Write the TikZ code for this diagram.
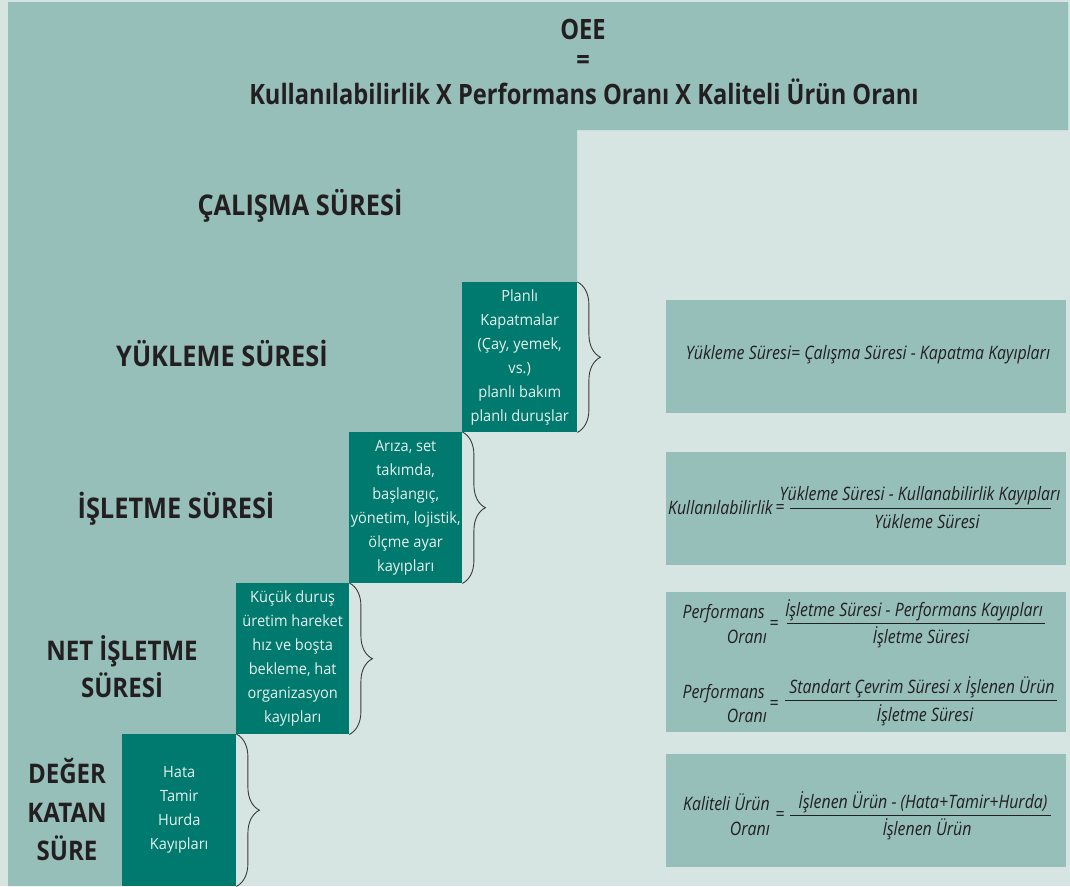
\documentclass[tikz,border=0pt]{standalone}
\usepackage{fontspec}
\setmainfont{Open Sans}
\newfontfamily\headfont[FakeStretch=0.89]{Open Sans}
\newfontfamily\titlefont[FakeStretch=0.845]{Open Sans}
\newfontfamily\lossfont[FakeStretch=0.94]{Open Sans}
\newfontfamily\formfont[FakeStretch=0.86]{Open Sans}
\usetikzlibrary{decorations.pathreplacing}

\definecolor{bgpale}{HTML}{D6E4E2}
\definecolor{tealmid}{HTML}{96BFB9}
\definecolor{tealdark}{HTML}{007A6E}
\definecolor{inkdark}{HTML}{231F20}
\definecolor{boxtext}{HTML}{E8F1EF}
\definecolor{braceink}{HTML}{3A3A3A}

\tikzset{
  lossbox/.style={fill=tealdark, draw=none, anchor=north west, inner sep=0pt,
    text=boxtext, align=center, font=\lossfont\fontsize{15.5}{24}\selectfont},
  formbox/.style={fill=tealmid, draw=none, anchor=north west, inner sep=0pt,
    minimum width=400pt},
  steplabel/.style={text=inkdark, inner sep=0pt, anchor=base,
    font=\headfont\bfseries\fontsize{28.5}{38}\selectfont},
  smallstep/.style={steplabel, font=\headfont\bfseries\fontsize{27}{38}\selectfont},
  titletext/.style={text=inkdark, inner sep=0pt, anchor=base,
    font=\titlefont\bfseries\fontsize{28}{32}\selectfont},
  formtext/.style={text=inkdark, inner sep=0pt, anchor=base,
    font=\formfont\itshape\fontsize{18.5}{25}\selectfont},
  formlabel/.style={formtext, anchor=base east},
  formeq/.style={formtext, anchor=center},
  fracbar/.style={draw=inkdark, line width=0.9pt},
  lossbrace/.style={draw=braceink, line width=0.9pt,
    decorate, decoration={brace, amplitude=23pt}},
}

\begin{document}
\begin{tikzpicture}[x=1pt, y=-1pt]
  \fill[bgpale] (0,0) rectangle (1070,886);
  \useasboundingbox (0,0) rectangle (1070,886);

  % stepped band of running times
  \fill[tealmid] (8,2) -- (1068,2) -- (1068,130) -- (577,130) -- (577,282)
    -- (462,282) -- (462,432) -- (349,432) -- (349,583) -- (236,583)
    -- (236,734) -- (122,734) -- (122,886) -- (8,886) -- cycle;

  % heading formula
  \node[titletext] (oee) at (583,39) {OEE};
  \node[titletext, anchor=center] (eq) at (583,62) {=};
  \node[titletext] (oeeform) at (584,104)
    {Kullanılabilirlik X Performans Oranı X Kaliteli Ürün Oranı};

  % step names
  \node[steplabel] (calisma) at (300,215) {ÇALIŞMA SÜRESİ};
  \node[steplabel] (yukleme) at (222,366) {YÜKLEME SÜRESİ};
  \node[steplabel] (isletme) at (176,518) {İŞLETME SÜRESİ};
  \node[smallstep] (net1) at (122,660) {NET İŞLETME};
  \node[smallstep] (net2) at (122,697) {SÜRESİ};
  \node[smallstep] (deger1) at (67,783) {DEĞER};
  \node[smallstep] (deger2) at (67,822) {KATAN};
  \node[smallstep] (deger3) at (67,860) {SÜRE};

  % losses at each step
  \node[lossbox, minimum width=115pt, minimum height=150pt] (planli) at (462,282)
    {Planlı\\Kapatmalar\\(Çay, yemek,\\vs.)\\planlı bakım\\planlı duruşlar};
  \node[lossbox, minimum width=113pt, minimum height=151pt] (ariza) at (349,432)
    {Arıza, set\\takımda,\\başlangıç,\\yönetim, lojistik,\\ölçme ayar\\kayıpları};
  \node[lossbox, minimum width=113pt, minimum height=151pt] (kucuk) at (236,583)
    {Küçük duruş\\üretim hareket\\hız ve boşta\\bekleme, hat\\organizasyon\\kayıpları};
  \node[lossbox, minimum width=114pt, minimum height=152pt] (hata) at (122,734)
    {Hata\\Tamir\\Hurda\\Kayıpları};

  \draw[lossbrace] (planli.north east) -- (planli.south east);
  \draw[lossbrace] (ariza.north east) -- (ariza.south east);
  \draw[lossbrace] (kucuk.north east) -- (kucuk.south east);
  \draw[lossbrace] (hata.north east) -- (hata.south east);

  % formula panels
  \node[formbox, minimum height=113pt] (f1) at (666,300) {};
  \node[formbox, minimum height=113pt] (f2) at (666,452) {};
  \node[formbox, minimum height=140pt] (f3) at (666,592) {};
  \node[formbox, minimum height=113pt] (f4) at (666,754) {};

  % loading time
  \node[formtext] (f1t) at (868,359)
    {Yükleme Süresi= Çalışma Süresi - Kapatma Kayıpları};

  % availability
  \coordinate (b2l) at (790,508);
  \coordinate (b2r) at (1051,508);
  \draw[fracbar] (b2l) -- (b2r);
  \node[formlabel] (f2lab) at (773,514) {Kullanılabilirlik};
  \node[formeq] (f2eq) at (780,509) {=};
  \node[formtext] (f2num) at (920,500)
    {Yükleme Süresi - Kullanabilirlik Kayıpları};
  \node[formtext] (f2den) at (927,528) {Yükleme Süresi};

  % performance rate, first form
  \coordinate (b3l) at (787,623);
  \coordinate (b3r) at (1045,623);
  \draw[fracbar] (b3l) -- (b3r);
  \node[formlabel] (f3lab1) at (765,618) {Performans};
  \node[formlabel] (f3lab2) at (767,643) {Oranı};
  \node[formeq] (f3eq) at (774,625) {=};
  \node[formtext] (f3num) at (914,616)
    {İşletme Süresi - Performans Kayıpları};
  \node[formtext] (f3den) at (921,643) {İşletme Süresi};

  % performance rate, second form
  \coordinate (b4l) at (785,700);
  \coordinate (b4r) at (1057,700);
  \draw[fracbar] (b4l) -- (b4r);
  \node[formlabel] (f4lab1) at (765,698) {Performans};
  \node[formlabel] (f4lab2) at (767,722) {Oranı};
  \node[formeq] (f4eq) at (774,705) {=};
  \node[formtext] (f4num) at (922,693)
    {Standart Çevrim Süresi x İşlenen Ürün};
  \node[formtext] (f4den) at (925,721) {İşletme Süresi};

  % quality rate
  \coordinate (b5l) at (790,815);
  \coordinate (b5r) at (1051,815);
  \draw[fracbar] (b5l) -- (b5r);
  \node[formlabel] (f5lab1) at (770,810) {Kaliteli Ürün};
  \node[formlabel] (f5lab2) at (770,835) {Oranı};
  \node[formeq] (f5eq) at (780,816) {=};
  \node[formtext] (f5num) at (923,808)
    {İşlenen Ürün - (Hata+Tamir+Hurda)};
  \node[formtext] (f5den) at (927,835) {İşlenen Ürün};
\end{tikzpicture}
\end{document}
